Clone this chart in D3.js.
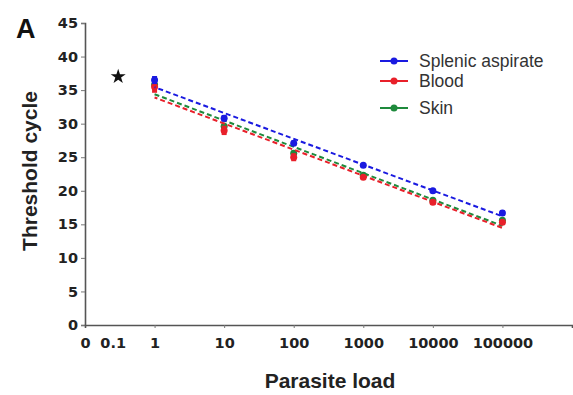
<!DOCTYPE html>
<html>
<head>
<meta charset="utf-8">
<script src="https://cdn.jsdelivr.net/npm/d3@7"></script>
<style>
  body { margin: 0; background: #fff; }
  svg { font-family: "Liberation Sans", Arial, sans-serif; }
</style>
</head>
<body>
<svg width="573" height="395"></svg>
<script>
const loads = [1, 10, 100, 1000, 10000, 100000];
const splenic = [36.5, 30.8, 27.1, 23.8, 20.0, 16.7];
const blood = [35.5, 29.0, 25.0, 22.0, 18.3, 15.3];
const skin = [35.8, 29.6, 25.6, 22.3, 18.6, 15.6];
const errSplenic = [0.6, 0.5, 0.4, 0.3, 0.3, 0.4];
const errBlood = [0.9, 0.7, 0.6, 0.3, 0.4, 0.3];
const errSkin = [0.5, 0.4, 0.4, 0.3, 0.3, 0.3];
const star = { x: 0.3, y: 37 };
const xTickVals = [0.1, 0.25, 1, 10, 100, 1000, 10000, 100000];
const xTickLabels = ["0", "0.1", "1", "10", "100", "1000", "10000", "100000"];
const yTicks = [0, 5, 10, 15, 20, 25, 30, 35, 40, 45];

const series = [
  { name: "Skin", color: "#1e8a3c", vals: skin, err: errSkin },
  { name: "Blood", color: "#e8202a", vals: blood, err: errBlood },
  { name: "Splenic aspirate", color: "#1a1ae0", vals: splenic, err: errSplenic }
];
const legendOrder = ["Splenic aspirate", "Blood", "Skin"];

const svg = d3.select("svg");
const x = d3.scaleLog().domain([0.1, 1e6]).range([85, 572]);
const y = d3.scaleLinear().domain([0, 45]).range([325, 23]);

// axes
const yAxis = svg.append("g")
  .attr("transform", "translate(85,0)")
  .call(d3.axisLeft(y).tickValues(yTicks).tickSize(4).tickPadding(3));
const xAxis = svg.append("g")
  .attr("transform", "translate(0,325)")
  .call(d3.axisBottom(x).tickValues(xTickVals).tickSize(3).tickPadding(10)
    .tickFormat((d, i) => xTickLabels[i]));
[xAxis, yAxis].forEach(g => {
  g.select(".domain").attr("stroke", "#555").attr("stroke-width", 1.6);
  g.selectAll(".tick line").attr("stroke", "#777");
  g.selectAll("text").attr("fill", "#222")
    .style("font-family", "'DejaVu Sans', sans-serif")
    .style("font-size", "14.5px").style("font-weight", "bold");
});
xAxis.selectAll(".tick").filter((d, i) => i < 2).select("line").remove();

// fit lines (linear in log10 of load)
function fit(vals) {
  const lx = loads.map(v => Math.log10(v));
  const mx = d3.mean(lx), my = d3.mean(vals);
  const b = d3.sum(lx, (v, i) => (v - mx) * (vals[i] - my)) / d3.sum(lx, v => (v - mx) ** 2);
  return v => my + b * (Math.log10(v) - mx);
}
const line = d3.line().x(d => x(d[0])).y(d => y(d[1]));

series.forEach((s, k) => {
  const f = fit(s.vals);
  svg.append("path")
    .attr("d", line([[1, f(1)], [100000, f(100000)]]))
    .attr("fill", "none")
    .attr("stroke", s.color)
    .attr("stroke-width", 2)
    .attr("stroke-dasharray", "5,3")
    .attr("stroke-dashoffset", k * 2);
  const g = svg.append("g");
  g.selectAll("line").data(loads).join("line")
    .attr("x1", d => x(d)).attr("x2", d => x(d))
    .attr("y1", (d, i) => y(s.vals[i] - s.err[i]))
    .attr("y2", (d, i) => y(s.vals[i] + s.err[i]))
    .attr("stroke", s.color).attr("stroke-width", 5);
  g.selectAll("circle").data(loads).join("circle")
    .attr("cx", d => x(d)).attr("cy", (d, i) => y(s.vals[i]))
    .attr("r", 3.5).attr("fill", s.color);
});

// star
svg.append("path")
  .attr("d", d3.symbol(d3.symbolStar, 70)())
  .attr("transform", `translate(${x(star.x)},${y(star.y)})`)
  .attr("fill", "#111");

// legend
const leg = svg.append("g");
legendOrder.forEach((n, i) => {
  const s = series.find(t => t.name === n);
  const ly = [61, 81, 108][i];
  leg.append("line").attr("x1", 380).attr("x2", 408).attr("y1", ly).attr("y2", ly)
    .attr("stroke", s.color).attr("stroke-width", 2);
  leg.append("circle").attr("cx", 394).attr("cy", ly).attr("r", 3.5).attr("fill", s.color);
  leg.append("text").attr("x", 419).attr("y", ly + 6).text(n)
    .style("font-size", "17.5px").attr("fill", "#333");
});

// titles
svg.append("text").attr("x", 330).attr("y", 388).attr("text-anchor", "middle")
  .style("font-size", "21px").style("font-weight", "bold").attr("fill", "#222")
  .text("Parasite load");
svg.append("text").attr("transform", "translate(37,171) rotate(-90)").attr("text-anchor", "middle")
  .style("font-size", "21px").style("font-weight", "bold").attr("fill", "#222")
  .text("Threshold cycle");
svg.append("text").attr("x", 16).attr("y", 38)
  .style("font-size", "27px").style("font-weight", "bold").attr("fill", "#111")
  .text("A");
</script>
</body>
</html>
